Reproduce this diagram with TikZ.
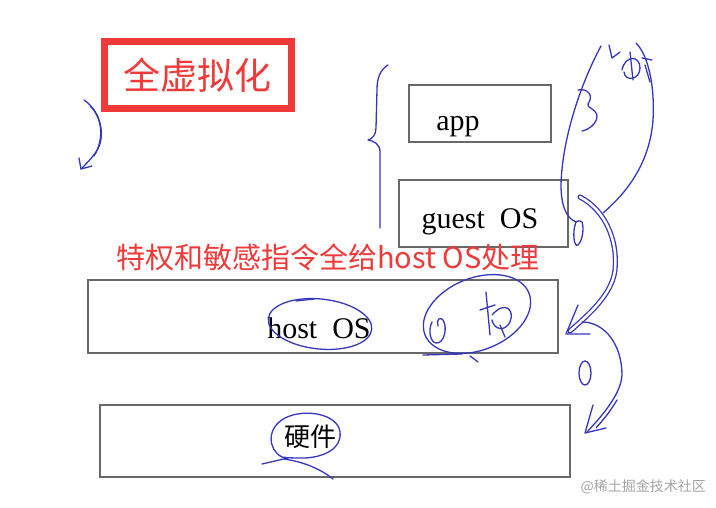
\documentclass[tikz,border=0pt]{standalone}
\usepackage{fontspec}
\setmainfont{Liberation Serif}
\newfontfamily\cjk{Noto Sans CJK SC}
\definecolor{inkblue}{RGB}{55,55,190}
\definecolor{markred}{RGB}{240,58,58}
\definecolor{boxgray}{RGB}{105,105,105}
\definecolor{wmgray}{RGB}{165,165,165}

\begin{document}
\begin{tikzpicture}[x=1pt, y=-1pt,
    layer/.style={draw=boxgray, line width=1.8pt, fill=white, inner sep=0pt},
    lbl/.style={inner sep=0pt, anchor=base, font=\fontsize{30}{32}\selectfont},
    ink/.style={draw=inkblue, line width=1.3pt, line cap=round, line join=round},
    titlebox/.style={draw=markred, line width=7pt, text=markred, inner sep=0pt, font=\cjk\fontsize{37}{40}\selectfont}
]

\useasboundingbox (0,0) rectangle (716,508);
\fill[white] (0,0) rectangle (716,508);

\node[titlebox, minimum width=187, minimum height=67] (ttl) at (197.5,75.5) {全虚拟化};

\node[layer, minimum width=142, minimum height=57] (app) at (480,113.5) {};
\node[layer, minimum width=169, minimum height=67] (guest) at (483.5,213.5) {};
\node[layer, minimum width=470, minimum height=73] (host) at (323,316.5) {};
\node[layer, minimum width=470, minimum height=72] (hw) at (335,441) {};

\node[lbl] (appt) at (458,131) {app};
\node[lbl] (guestt) at (480,229) {guest\ \ OS};
\node[lbl] (hostt) at (319,338) {host\ \ OS};
\node[inner sep=0pt, font=\cjk\fontsize{26}{28}\selectfont] (hwt) at (310,437) {硬件};

\node[anchor=west, inner sep=0pt, text=markred, font=\cjk\fontsize{29}{31}\selectfont] (note) at (116,257) {特权和敏感指令全给host OS处理};

\node[anchor=east, inner sep=0pt, text=wmgray, font=\cjk\fontsize{14}{16}\selectfont] (wm) at (706,487) {@稀土掘金技术社区};

\draw[ink] (84,100) .. controls (102,112) and (106,138) .. (96,152) .. controls (91,159) and (86,164) .. (81,169);
\draw[ink] (90,106) .. controls (103,118) and (104,140) .. (94,156);
\draw[ink] (79,158) -- (81,169) -- (92,166);

\draw[ink] (388,65) .. controls (380,70) and (377,78) .. (377,90) -- (376,128) .. controls (376,135) and (372,139) .. (368,140) .. controls (374,141) and (380,144) .. (380,152) -- (380,228);

\draw[ink] (601,46) .. controls (580,85) and (562,140) .. (561,185) .. controls (561,205) and (566,218) .. (576,222);
\draw[ink] (576,222) .. controls (572,232) and (574,248) .. (578,245) .. controls (583,240) and (584,228) .. (582,222) .. controls (579,220) and (577,221) .. (576,222);
\draw[ink] (578,90) .. controls (588,88) and (594,96) .. (588,104) .. controls (586,108) and (596,108) .. (597,116) .. controls (597,124) and (588,130) .. (582,131);
\draw[ink] (603,213) .. controls (630,190) and (650,160) .. (653,120) .. controls (655,85) and (648,55) .. (636,43);
\draw[ink] (609,45) -- (612,58) -- (620,52);
\draw[ink] (622,70) .. controls (625,55) and (640,55) .. (640,68) .. controls (640,80) and (625,82) .. (624,72);
\draw[ink] (630,52) -- (633,80) (642,58) -- (652,60) (645,65) -- (650,82);

\draw[ink, double=white, double distance=2.5pt] (580,197) .. controls (605,210) and (618,240) .. (615,270) .. controls (612,295) and (588,315) .. (570,331);
\draw[ink] (578,305) -- (566,334) -- (590,334);
\draw[ink] (582,322) .. controls (605,322) and (622,345) .. (622,375) .. controls (621,395) and (600,418) .. (587,432);
\draw[ink] (617,400) .. controls (610,412) and (603,420) .. (596,428);
\draw[ink] (593,405) -- (585,433) -- (606,428);
\draw[ink] (585,373) ellipse [x radius=6, y radius=12];

\draw[ink, rotate around={-6:(320,324)}] (320,324) ellipse [x radius=52, y radius=25];
\draw[ink] (296,301) -- (314,299);

\draw[ink, rotate around={22:(477,314)}] (477,314) ellipse [x radius=56, y radius=36];
\draw[ink] (423,355) -- (462,354) (470,356) -- (478,362);
\draw[ink] (432,322) .. controls (428,330) and (430,342) .. (436,343) .. controls (444,344) and (448,328) .. (443,320) .. controls (440,316) and (436,320) .. (438,326);
\draw[ink] (486,292) -- (490,335) (480,310) -- (495,305) (500,325) -- (505,337);
\draw[ink] (492,315) .. controls (505,300) and (515,310) .. (510,322) .. controls (505,332) and (494,330) .. (492,320);

\draw[ink] (282,457) .. controls (268,450) and (266,428) .. (285,418) .. controls (305,408) and (338,414) .. (340,432) .. controls (342,448) and (325,457) .. (305,458) .. controls (295,458) and (287,458) .. (282,457);
\draw[ink] (284,459) .. controls (305,462) and (322,470) .. (333,479);
\draw[ink] (262,464) -- (288,458);

\end{tikzpicture}
\end{document}
